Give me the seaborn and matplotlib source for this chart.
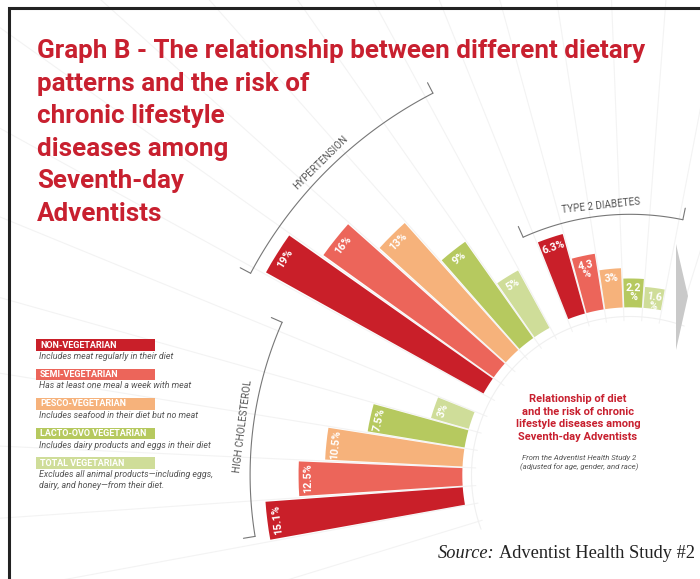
import numpy as np
import matplotlib
matplotlib.use("Agg")
import matplotlib.pyplot as plt
from matplotlib.patches import Rectangle, Polygon
import seaborn as sns

# ---------------- data ----------------
diets = ["NON-VEGETARIAN", "SEMI-VEGETARIAN", "PESCO-VEGETARIAN",
         "LACTO-OVO VEGETARIAN", "TOTAL VEGETARIAN"]
diet_notes = ["Includes meat regularly in their diet",
              "Has at least one meal a week with meat",
              "Includes seafood in their diet but no meat",
              "Includes dairy products and eggs in their diet",
              "Excludes all animal products\u2014including eggs,\ndairy, and honey\u2014from their diet."]
diseases = ["TYPE 2 DIABETES", "HYPERTENSION", "HIGH CHOLESTEROL"]
diabetes = [6.3, 4.3, 3.0, 2.2, 1.6]
hypertension = [19, 16, 13, 9, 5]
cholesterol = [15.1, 12.5, 10.5, 7.5, 3.0]
diabetes_labels = ["6.3%", "4.3\n%", "3%", "2.2\n%", "1.6\n%"]
hypertension_labels = ["19%", "16%", "13%", "9%", "5%"]
cholesterol_labels = ["15.1%", "12.5%", "10.5%", "7.5%", "3%"]

title_lines = ["Graph B - The relationship between different dietary",
               "patterns and the risk of", "chronic lifestyle",
               "diseases among", "Seventh-day", "Adventists"]

# ---------------- style ----------------
sns.set_theme(style="white")
palette = sns.color_palette(["#c91f29", "#ec655a", "#f6b27b", "#b6c95f", "#cfdd99"])
RED = "#c8202f"
GRAY = "#555555"
SANS = ["Roboto", "DejaVu Sans"]

W, H = 700, 579
fig = plt.figure(figsize=(7, 5.79), dpi=100)

# polar geometry (pixels)
CX, CY = 630, 475          # centre of the rings
PX = 13.1                  # pixels per percentage point
R0 = 12.8                  # inner radius (in % units)
RMAX = 62
STEP = 6.55                # degrees between bar slots
BASE = 82.4                # angle of first slot
BAR_W = 6.0

rpx = RMAX * PX
ax = fig.add_axes([(CX - rpx) / W, (H - CY - rpx) / H, 2 * rpx / W, 2 * rpx / H],
                  projection="polar")
ax.set_ylim(0, RMAX)
ax.set_axis_off()

groups = [(diabetes, diabetes_labels, 0, 19.9, 78.3, 114.2),
          (hypertension, hypertension_labels, 6, 32.8, 117.3, 152.0),
          (cholesterol, cholesterol_labels, 12, 29.0, 156.3, 189.3)]

# faint background guides
for k in range(-1, 19):
    a = np.deg2rad(BASE + STEP * (k - 0.5))
    ax.plot([a, a], [R0 - 1.0, RMAX], color="#f3f3f3", lw=0.8, zorder=0)
arc = np.deg2rad(np.linspace(70, 200, 200))
ax.plot(arc, np.full_like(arc, R0 - 0.7), color="#f0f0f0", lw=0.8, zorder=0)

for (vals, labs, start, br, a0, a1), name in zip(groups, diseases):
    angles = np.array([BASE + STEP * (start + 4 - i) for i in range(len(vals))])
    ax.bar(np.deg2rad(angles), vals, width=np.deg2rad(BAR_W), bottom=R0,
           color=palette, edgecolor="none", zorder=2)
    for ang, v, lab in zip(angles, vals, labs):
        ax.text(np.deg2rad(ang), R0 + v - 0.35, lab, rotation=ang - 90,
                rotation_mode="anchor", ha="center", va="top", color="white",
                fontsize=7.8, fontweight="bold", family=SANS, linespacing=0.9,
                zorder=3)
    # bracket
    t = np.deg2rad(np.linspace(a0, a1, 100))
    ax.plot(t, np.full_like(t, br), color="#777777", lw=0.8, zorder=1)
    for e in (a0, a1):
        ax.plot([np.deg2rad(e)] * 2, [br, br + 0.9], color="#777777", lw=0.8, zorder=1)
    mid = (a0 + a1) / 2
    ax.text(np.deg2rad(mid), br + 0.75, name, rotation=mid - 90, rotation_mode="anchor",
            ha="center", va="center", color=GRAY, fontsize=7.1, family=SANS)

# ---------------- overlay in pixel coordinates ----------------
ov = fig.add_axes([0, 0, 1, 1])
ov.set_xlim(0, W)
ov.set_ylim(H, 0)
ov.set_axis_off()
ov.patch.set_alpha(0)

# frame
ov.plot([9, 9, W + 5], [H + 5, 8, 8], color="#222222", lw=2.2, solid_joinstyle="miter")

# title
for j, line in enumerate(title_lines):
    ov.text(37, 58 + 32.6 * j, line, color=RED, fontsize=18.7, fontweight="bold",
            family=SANS, va="baseline", ha="left")

# legend
for j, (d, note) in enumerate(zip(diets, diet_notes)):
    y = 339 + 29.5 * j
    ov.add_patch(Rectangle((36, y), 119, 11.5, color=palette[j], lw=0))
    ov.text(40, y + 6, d, color="white", fontsize=6.5, fontweight="bold",
            family=SANS, va="center", ha="left")
    ov.text(39, y + 13, note, color=GRAY, fontsize=6.4, style="italic",
            family=SANS, va="top", ha="left", linespacing=1.3)

# centre text
ov.text(578, 418, "Relationship of diet\nand the risk of chronic\nlifestyle diseases among\nSeventh-day Adventists",
        color=RED, fontsize=8, fontweight="bold", family=SANS, ha="center", va="center",
        linespacing=1.3)
ov.text(579, 463, "From the Adventist Health Study 2\n(adjusted for age, gender, and race)",
        color=GRAY, fontsize=5.6, style="italic", family=SANS, ha="center", va="center",
        linespacing=1.35)

# arrow pointer
ov.add_patch(Polygon([[676, 244], [688, 296], [676, 350]], closed=True,
                     color="#c9c9c9", lw=0))

# source
ov.text(494, 558, "Source:", fontsize=13.2, style="italic", family="Liberation Serif",
        ha="right", va="baseline", color="#222222")
ov.text(499, 558, "Adventist Health Study #2", fontsize=13.2, family="Liberation Serif",
        ha="left", va="baseline", color="#222222")

fig.savefig("out.png", dpi=100)
